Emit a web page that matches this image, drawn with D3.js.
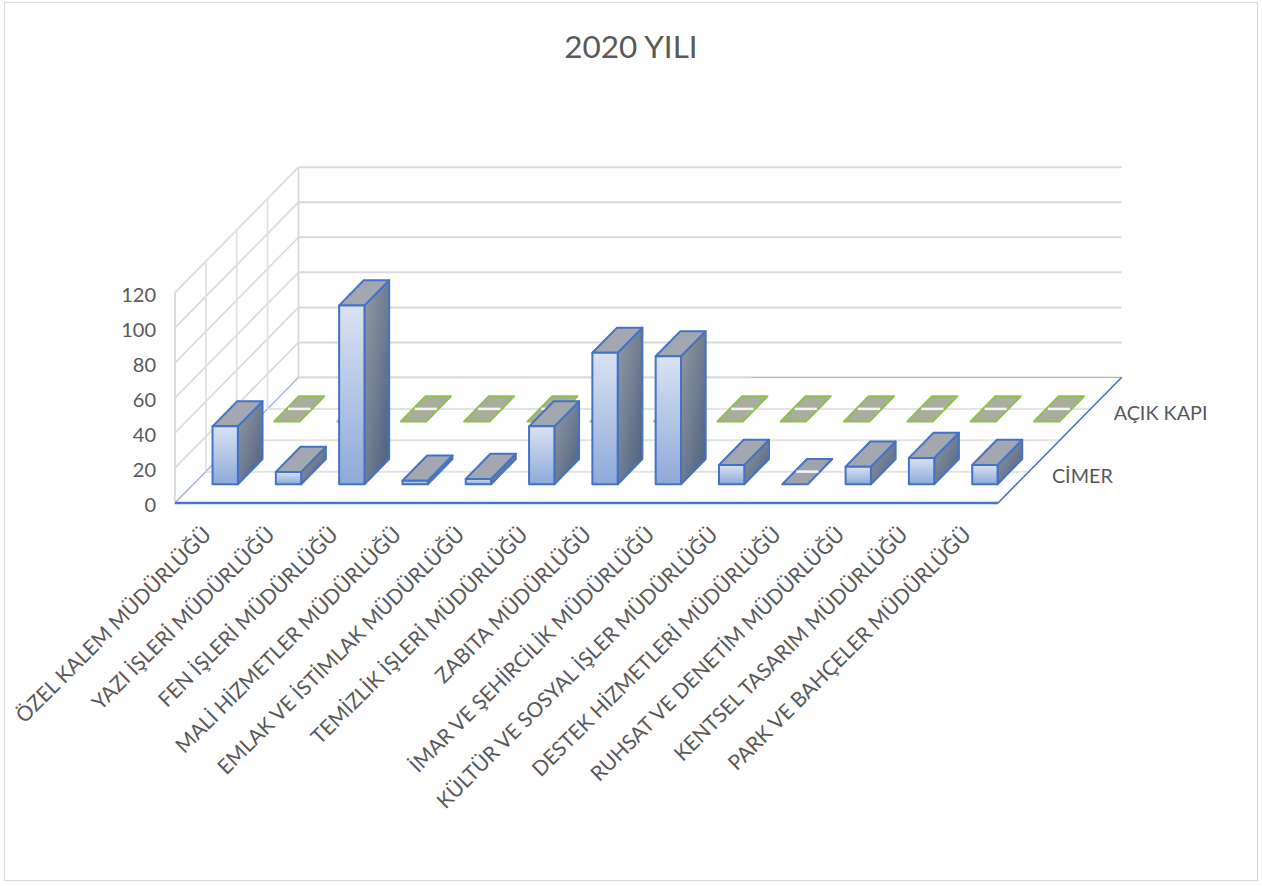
<!DOCTYPE html>
<html>
<head>
<meta charset="utf-8">
<script src="https://cdn.jsdelivr.net/npm/d3@7"></script>
<style>
  html, body { margin: 0; padding: 0; background: #ffffff; }
  svg { display: block; }
  text { font-family: Lato, "Open Sans", sans-serif; fill: #595959; }
</style>
</head>
<body>
<svg id="chart" width="1262" height="886"></svg>
<script>
// Birimlere göre 2020 yılı başvuru sayıları
const categories = [
  "ÖZEL KALEM MÜDÜRLÜĞÜ",
  "YAZI İŞLERİ MÜDÜRLÜĞÜ",
  "FEN İŞLERİ MÜDÜRLÜĞÜ",
  "MALİ HİZMETLER MÜDÜRLÜĞÜ",
  "EMLAK VE İSTİMLAK MÜDÜRLÜĞÜ",
  "TEMİZLİK İŞLERİ MÜDÜRLÜĞÜ",
  "ZABITA MÜDÜRLÜĞÜ",
  "İMAR VE ŞEHİRCİLİK MÜDÜRLÜĞÜ",
  "KÜLTÜR VE SOSYAL İŞLER MÜDÜRLÜĞÜ",
  "DESTEK HİZMETLERİ MÜDÜRLÜĞÜ",
  "RUHSAT VE DENETİM MÜDÜRLÜĞÜ",
  "KENTSEL TASARIM MÜDÜRLÜĞÜ",
  "PARK VE BAHÇELER MÜDÜRLÜĞÜ"
];
const seriesNames = ["CİMER", "AÇIK KAPI"];      // front row, back row
const cimerValues    = [33, 7, 102, 2, 3, 33, 75, 73, 11, 0, 10, 15, 11];
const acikKapiValues = [0, 0, 0, 0, 0, 0, 0, 0, 0, 0, 0, 0, 0];
const yTicks = [0, 20, 40, 60, 80, 100, 120];
const chartTitle = "2020 YILI";

const svg = d3.select("#chart");

// oblique 3D frame: front-left floor corner, floor width, depth offset
const X0 = 175, Y0 = 503, W = 823, DX = 123.5, DY = 125.5, H = 210.3;

const xBand = d3.scaleBand().domain(categories).range([0, W]);
const zBand = d3.scaleBand().domain(seriesNames).range([0, 1]);
const yHeight = d3.scaleLinear().domain([0, 120]).range([0, H]);
const yFront = d3.scaleLinear().domain([0, 120]).range([Y0, Y0 - H]);

// project (x along floor, value, depth 0=front..1=back) to screen
const P = (x, v, z) => [X0 + x + z * DX, Y0 - yHeight(v) - z * DY];
const poly = pts => d3.line()(pts) + "Z";

// chart area border
svg.append("rect")
  .attr("x", 4.5).attr("y", 2.5).attr("width", 1253).attr("height", 878)
  .attr("fill", "#fff").attr("stroke", "#d9d9d9").attr("stroke-width", 1.2);

// title
svg.append("text")
  .attr("x", 631).attr("y", 58)
  .attr("text-anchor", "middle")
  .style("font-size", "31.5px")
  .text(chartTitle);

const defs = svg.append("defs");
const fg = defs.append("linearGradient").attr("id", "frontGrad")
  .attr("x1", 0).attr("y1", 0).attr("x2", 0).attr("y2", 1);
fg.append("stop").attr("offset", "0%").attr("stop-color", "#d9e2f2");
fg.append("stop").attr("offset", "100%").attr("stop-color", "#8eaad9");
const sg = defs.append("linearGradient").attr("id", "sideGrad")
  .attr("x1", 0).attr("y1", 0).attr("x2", 1).attr("y2", 1);
sg.append("stop").attr("offset", "0%").attr("stop-color", "#949aa3");
sg.append("stop").attr("offset", "100%").attr("stop-color", "#4c5f80");

const grid = svg.append("g").attr("fill", "none");

// back wall gridlines
grid.selectAll(".bw").data(yTicks).join("path")
  .attr("d", v => d3.line()([P(0, v, 1), P(W, v, 1)]))
  .attr("stroke", "#d9d9d9").attr("stroke-width", 2);

// left wall gridlines (slanted) and depth verticals
grid.selectAll(".lw").data(yTicks).join("path")
  .attr("d", v => d3.line()([P(0, v, 0), P(0, v, 1)]))
  .attr("stroke", "#dcdcdc").attr("stroke-width", 1.8);
const depthGrid = d3.range(0, 1.0001, zBand.bandwidth() / 2);
grid.selectAll(".lv").data(depthGrid).join("path")
  .attr("d", z => d3.line()([P(0, 0, z), P(0, 120, z)]))
  .attr("stroke", z => (z === 0 || z === 1) ? "#d9d9d9" : "#e2e2e2")
  .attr("stroke-width", 1.8);

// floor
grid.append("path")
  .attr("d", poly([P(0, 0, 0), P(W, 0, 0), P(W, 0, 1), P(0, 0, 1)]))
  .attr("fill", "#fff").attr("stroke", "#9db4df").attr("stroke-width", 1.2);
grid.selectAll(".fl").data(depthGrid.filter(z => z > 0 && z < 1)).join("path")
  .attr("d", z => d3.line()([P(0, 0, z), P(W, 0, z)]))
  .attr("stroke", "#e3e3e3").attr("stroke-width", 2);
grid.append("path")
  .attr("d", d3.line()([P(0, 0, 1), P(W * 0.55, 0, 1)]))
  .attr("stroke", "#d9d9d9").attr("stroke-width", 2);
// depth axis line
grid.append("path")
  .attr("d", d3.line()([P(W, 0, 0), P(W, 0, 1)]))
  .attr("stroke", "#4a78c6").attr("stroke-width", 1.5);

// bars
const barW = xBand.bandwidth() * 0.4;
const barD = zBand.bandwidth() * 0.4;
const rows = [
  { name: "AÇIK KAPI", values: acikKapiValues, stroke: "#8dc04f", slab: "#a9ad9d" },
  { name: "CİMER", values: cimerValues, stroke: "#4472c4", slab: "#9fa4ac" }
];
const bars = svg.append("g").attr("stroke-linejoin", "round");

rows.forEach(row => {
  const zc = zBand(row.name) + zBand.bandwidth() / 2;
  const zf = zc - barD / 2, zb = zc + barD / 2;
  const data = categories.map((c, i) => ({ c, v: row.values[i] }));
  const g = bars.append("g");
  data.forEach(d => {
    const xl = xBand(d.c) + (xBand.bandwidth() - barW) / 2, xr = xl + barW;
    const b = g.append("g").attr("stroke", row.stroke).attr("stroke-width", 2);
    if (d.v > 0) {
      b.append("path").attr("d", poly([P(xr, 0, zf), P(xr, 0, zb), P(xr, d.v, zb), P(xr, d.v, zf)]))
        .attr("fill", "url(#sideGrad)");
      b.append("path").attr("d", poly([P(xl, d.v, zf), P(xr, d.v, zf), P(xr, d.v, zb), P(xl, d.v, zb)]))
        .attr("fill", "#a3a8b0");
      b.append("path").attr("d", poly([P(xl, 0, zf), P(xr, 0, zf), P(xr, d.v, zf), P(xl, d.v, zf)]))
        .attr("fill", "url(#frontGrad)");
    } else {
      b.append("path").attr("d", poly([P(xl, 0, zf), P(xr, 0, zf), P(xr, 0, zb), P(xl, 0, zb)]))
        .attr("fill", row.slab);
      b.append("path").attr("d", d3.line()([P(xl + 1.5, 0, zc), P(xr - 1.5, 0, zc)]))
        .attr("stroke", "#f4f4f4").attr("stroke-width", 2.5);
    }
  });
});

// front floor edge (category axis line)
svg.append("path")
  .attr("d", d3.line()([P(0, 0, 0), P(W, 0, 0)]))
  .attr("stroke", "#4a78c6").attr("stroke-width", 2.6).attr("fill", "none");

// value axis labels
const yAxis = svg.append("g")
  .attr("transform", `translate(${X0 - 19},0)`)
  .call(d3.axisLeft(yFront).tickValues(yTicks).tickSize(0).tickPadding(0));
yAxis.select(".domain").remove();
yAxis.selectAll("text")
  .attr("dy", "0.42em")
  .style("font-family", "Lato, sans-serif")
  .style("font-size", "20px")
  .attr("fill", "#595959");

// category labels
const xAxis = svg.append("g")
  .attr("transform", `translate(${X0},${Y0})`)
  .call(d3.axisBottom(xBand).tickSize(0).tickPadding(0));
xAxis.select(".domain").remove();
xAxis.selectAll("text")
  .attr("y", null).attr("dy", null)
  .attr("text-anchor", "end")
  .attr("transform", "translate(6,33) rotate(-45)")
  .style("font-family", "Lato, sans-serif")
  .style("font-size", "20.8px")
  .attr("fill", "#595959");

// series (depth) labels
svg.append("g").selectAll("text").data(seriesNames).join("text")
  .attr("x", s => P(W, 0, zBand(s) + zBand.bandwidth() / 2)[0] + 23)
  .attr("y", s => P(W, 0, zBand(s) + zBand.bandwidth() / 2)[1] + 4)
  .attr("dy", "0.35em")
  .style("font-size", "19.8px")
  .text(s => s);
</script>
</body>
</html>
